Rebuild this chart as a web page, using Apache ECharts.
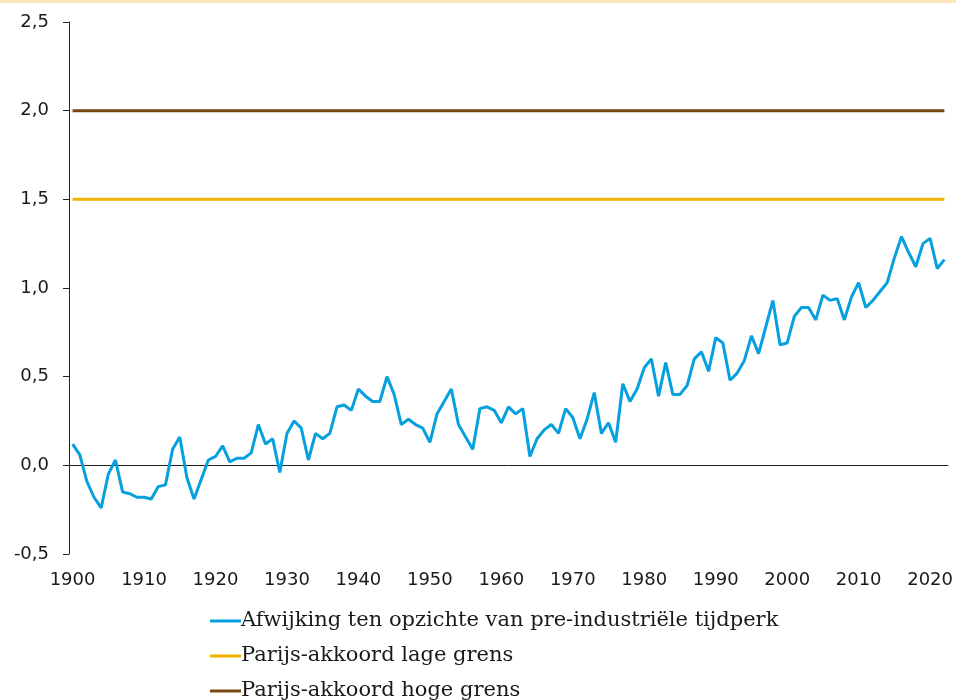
<!DOCTYPE html>
<html>
<head>
<meta charset="utf-8">
<script src="https://cdn.jsdelivr.net/npm/echarts@6/dist/echarts.min.js"></script>
<style>
  html, body { margin: 0; padding: 0; background: #fff; }
  #main { width: 956px; height: 700px; }
</style>
</head>
<body>
<div id="main"></div>
<script>
// jaren 1900 t/m 2022
const years = [];
for (let y = 1900; y <= 2022; y++) years.push(String(y));

// afwijking t.o.v. pre-industrieel (graden C)
const anomaly = [
  0.12, 0.06, -0.09, -0.18, -0.24, -0.05, 0.03, -0.15, -0.16, -0.18,
  -0.18, -0.19, -0.12, -0.11, 0.09, 0.16, -0.07, -0.19, -0.08, 0.03,
  0.05, 0.11, 0.02, 0.04, 0.04, 0.07, 0.23, 0.12, 0.15, -0.04,
  0.18, 0.25, 0.21, 0.03, 0.18, 0.15, 0.18, 0.33, 0.34, 0.31,
  0.43, 0.39, 0.36, 0.36, 0.50, 0.40, 0.23, 0.26, 0.23, 0.21,
  0.13, 0.29, 0.36, 0.43, 0.23, 0.16, 0.09, 0.32, 0.33, 0.31,
  0.24, 0.33, 0.29, 0.32, 0.05, 0.15, 0.20, 0.23, 0.18, 0.32,
  0.27, 0.15, 0.26, 0.41, 0.18, 0.24, 0.13, 0.46, 0.36, 0.43,
  0.55, 0.60, 0.39, 0.58, 0.40, 0.40, 0.45, 0.60, 0.64, 0.53,
  0.72, 0.69, 0.48, 0.52, 0.59, 0.73, 0.63, 0.78, 0.93, 0.68,
  0.69, 0.84, 0.89, 0.89, 0.82, 0.96, 0.93, 0.94, 0.82, 0.95,
  1.03, 0.89, 0.93, 0.98, 1.03, 1.17, 1.29, 1.20, 1.12, 1.25,
  1.28, 1.11, 1.16
];

const lowBound = 1.5;
const highBound = 2.0;
const lowLine = years.map(() => lowBound);
const highLine = years.map(() => highBound);

const names = [
  'Afwijking ten opzichte van pre-industriële tijdperk',
  'Parijs-akkoord lage grens',
  'Parijs-akkoord hoge grens'
];

const chart = echarts.init(document.getElementById('main'));
const axisFont = { fontFamily: 'DejaVu Sans', fontSize: 18, color: '#1a1a1a' };

chart.setOption({
  animation: false,
  graphic: [{
    type: 'rect', left: 0, top: 0,
    shape: { width: 956, height: 3 },
    style: { fill: '#fce6be' }
  }],
  grid: { left: 69, right: 8, top: 22, bottom: 146 },
  legend: {
    orient: 'vertical',
    left: 205,
    top: 605,
    height: 120,
    itemWidth: 31,
    itemHeight: 3,
    itemGap: 13,
    icon: 'rect',
    data: names,
    textStyle: { fontFamily: 'DejaVu Serif', fontSize: 21, lineHeight: 22, color: '#1a1a1a', padding: [0, 0, 0, -5] }
  },
  xAxis: [{
    type: 'category',
    data: years,
    boundaryGap: true,
    axisLine: { onZero: true, lineStyle: { color: '#222', width: 1 } },
    axisTick: { interval: 9, length: 5, lineStyle: { color: '#222' } },
    axisLabel: { show: false },
    splitLine: { show: false }
  }, {
    type: 'category',
    data: years,
    boundaryGap: true,
    position: 'bottom',
    axisLine: { show: false },
    axisTick: { show: false },
    axisLabel: Object.assign({ interval: 9, margin: 17 }, axisFont),
    splitLine: { show: false }
  }],
  yAxis: {
    type: 'value',
    min: -0.5,
    max: 2.5,
    interval: 0.5,
    axisLine: { show: true, lineStyle: { color: '#222', width: 1 } },
    axisTick: { show: true, length: 6, lineStyle: { color: '#222' } },
    axisLabel: Object.assign({
      margin: 20,
      formatter: v => v.toFixed(1).replace('.', ',')
    }, axisFont),
    splitLine: { show: false }
  },
  series: [{
    name: names[0],
    type: 'line',
    data: anomaly,
    symbol: 'none',
    z: 3,
    lineStyle: { color: '#05a0dd', width: 3 },
    itemStyle: { color: '#05a0dd' }
  }, {
    name: names[1],
    type: 'line',
    data: lowLine,
    symbol: 'none',
    lineStyle: { color: '#f2b200', width: 3 },
    itemStyle: { color: '#f2b200' }
  }, {
    name: names[2],
    type: 'line',
    data: highLine,
    symbol: 'none',
    lineStyle: { color: '#774812', width: 3 },
    itemStyle: { color: '#774812' }
  }]
});
</script>
</body>
</html>
